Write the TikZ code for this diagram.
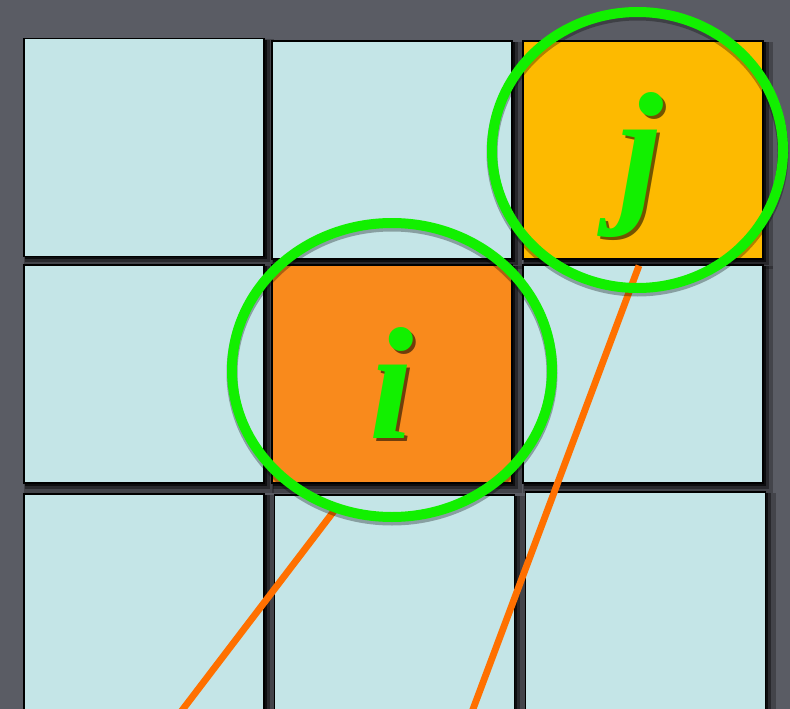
\documentclass[tikz,border=0pt]{standalone}
\usepackage{fontspec}
\newfontfamily\letterfont{Liberation Serif}
\usetikzlibrary{shapes.geometric,shadows}
\definecolor{bg}{HTML}{5A5C64}
\definecolor{cellblue}{HTML}{C4E5E7}
\definecolor{cellorange}{HTML}{F98A1C}
\definecolor{cellyellow}{HTML}{FDBA00}
\definecolor{ringgreen}{HTML}{12F000}
\definecolor{lineorange}{HTML}{FF7000}
\tikzset{
  cell/.style={rectangle, draw=black, line width=1.2pt, fill=cellblue, inner sep=0pt,
    minimum width=240pt, minimum height=218pt,
    general shadow={fill=black, opacity=0.25, shadow scale=1.04, shadow xshift=5pt, shadow yshift=-5pt},
    general shadow={fill=black, opacity=0.4, shadow scale=1.02, shadow xshift=3.5pt, shadow yshift=-3.5pt},
    general shadow={fill=black, opacity=0.65, shadow scale=1.008, shadow xshift=2pt, shadow yshift=-2pt}},
  ring/.style={ellipse, draw=ringgreen, line width=10pt, inner sep=0pt},
  ringshadow/.style={draw=black, opacity=0.3, line width=11pt},
  link/.style={draw=lineorange, line width=6.8pt},
  letter/.style={anchor=base, inner sep=0pt, text=ringgreen,
    font=\letterfont\bfseries\itshape\fontsize{160pt}{160pt}\selectfont},
  lettershadow/.style={letter, text=black, opacity=0.55},
}
\begin{document}
\begin{tikzpicture}[x=1pt, y=-1pt]
\fill[bg] (0,0) rectangle (790,709);
\useasboundingbox (0,0) rectangle (790,709);
\clip (0,0) rectangle (790,709);
% cells
\node[cell] (s11) at (144,147.5) {};
\node[cell] (s12) at (392,150) {};
\node[cell, fill=cellyellow] (s13) at (643,150) {};
\node[cell] (s21) at (144,374) {};
\node[cell, fill=cellorange] (s22) at (392,374) {};
\node[cell] (s23) at (643,374) {};
\node[cell] (s31) at (144,603) {};
\node[cell] (s32) at (394.5,604) {};
\node[cell] (s33) at (645.5,601) {};
% ring positions
\path (392,370) node[ellipse, minimum width=320pt, minimum height=294pt, inner sep=0pt] (ci) {};
\path (637.5,150) node[ellipse, minimum width=291pt, minimum height=276pt, inner sep=0pt] (cj) {};
% connectors
\coordinate (b1) at (178.5,715);
\coordinate (b2) at (470.8,715);
\coordinate (t2) at ([xshift=-4pt, yshift=-6pt]s13.south);
\draw[link] (b1) -- (ci.248);
\draw[link] (b2) -- (t2);
% ring shadows and rings
\draw[ringshadow] ([yshift=-3pt]ci.center) ellipse (160pt and 147pt);
\draw[ringshadow] ([yshift=-3pt]cj.center) ellipse (145.5pt and 138pt);
\node[ring, minimum width=320pt, minimum height=294pt] (ri) at (ci.center) {};
\node[ring, minimum width=291pt, minimum height=276pt] (rj) at (cj.center) {};
% letters
\node[lettershadow] (tis) at (395,441) {i};
\node[letter] (ti) at (392,438) {i};
\node[lettershadow] (tjs) at (644,206) {j};
\node[letter] (tj) at (641,203) {j};
\end{tikzpicture}
\end{document}
